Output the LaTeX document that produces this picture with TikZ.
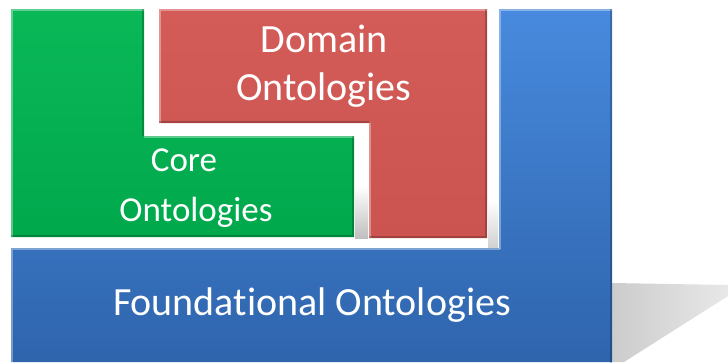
\documentclass[tikz,border=0pt]{standalone}
\usepackage{fontspec}
\setmainfont{Carlito}[Ligatures={NoCommon}]
\definecolor{grnT}{RGB}{10,184,88}
\definecolor{grnB}{RGB}{0,168,76}
\definecolor{redT}{RGB}{212,92,88}
\definecolor{redB}{RGB}{204,84,80}
\definecolor{blueT}{RGB}{72,138,222}
\definecolor{blueB}{RGB}{46,100,172}
\tikzset{
  lbl/.style={text=white, align=center, inner sep=0pt, font=\fontsize{40}{48}\selectfont},
  hil/.style={line width=2pt, white, opacity=0.35, line cap=rect},
  drk/.style={line width=2pt, black, opacity=0.22, line cap=rect},
}
\begin{document}
\begin{tikzpicture}[x=1pt, y=-1pt]
\useasboundingbox (0,0) rectangle (728,362);
\fill[white] (0,0) rectangle (728,362);
% cast shadow on the right
\shade[left color=black!20, right color=black!9]
  (612,283) -- (728,285) -- (728,296) -- (624,362) -- (612,362) -- cycle;
% blue foundational shape
\shade[top color=blueT, bottom color=blueB]
  (11,248) -- (499,248) -- (499,9) -- (612,9) -- (612,362) -- (11,362) -- cycle;
\draw[hil] (12,362) -- (12,249) -- (499,249);
\draw[hil] (500,248) -- (500,10) -- (611,10);
\draw[drk] (611,10) -- (611,362);
% green core shape
\shade[top color=grnT, bottom color=grnB]
  (11,9) -- (144,9) -- (144,136) -- (354,136) -- (354,237) -- (11,237) -- cycle;
\draw[hil] (12,236) -- (12,10) -- (143,10);
\draw[hil] (145,137) -- (353,137);
\draw[drk] (143,10) -- (143,135);
\draw[drk] (353,137) -- (353,236) -- (12,236);
% red domain shape
\shade[top color=redT, bottom color=redB]
  (159,9) -- (487,9) -- (487,238) -- (369,238) -- (369,123) -- (159,123) -- cycle;
\draw[hil] (160,122) -- (160,10) -- (486,10);
\draw[hil] (370,237) -- (370,124);
\draw[drk] (486,10) -- (486,237) -- (370,237);
\draw[drk] (160,122) -- (368,122);
% soft shadows in the gaps
\shade[top color=white, bottom color=black!25] (355,185) rectangle (368,238);
\shade[top color=white, bottom color=black!18] (488,200) rectangle (498,247);
% labels
\node[lbl] (dom) at (324,66) {Domain\\Ontologies};
\node[lbl, font=\fontsize{35}{50}\selectfont] (core) at (196,188) {Core\kern24pt\\Ontologies};
\node[lbl] (fnd) at (312,305) {Foundational Ontologies};
\end{tikzpicture}
\end{document}
